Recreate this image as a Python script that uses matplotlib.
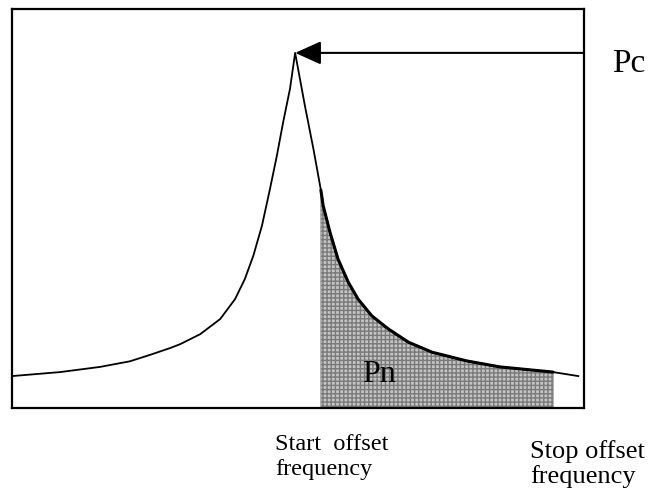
#!/usr/bin/env python3
"""
Adjacent-channel style sketch: carrier peak Pc and integrated noise Pn
between the start and stop offset frequencies.
"""

import numpy as np
import matplotlib
matplotlib.use("Agg")
import matplotlib.pyplot as plt

# ----------------------------- Data -----------------------------
# spectrum trace, arbitrary units (box spans 0..100 in x and y)
freq = [0.0, 8.4, 15.4, 20.6, 24.1, 27.6, 29.4, 32.9, 36.4, 39.0, 40.7,
        42.2, 43.7, 45.1, 46.3, 47.4, 48.6, 49.5,
        51.2, 52.7, 54.0, 54.4, 55.6, 57.0, 58.8, 60.5, 62.9, 65.8, 69.3,
        73.4, 79.5, 85.3, 94.6, 99.0]
power = [8.0, 9.0, 10.3, 11.7, 13.3, 15.0, 16.0, 18.5, 22.3, 27.3, 32.3,
         38.2, 45.7, 54.9, 63.2, 71.6, 80.0, 89.0,
         75.8, 64.9, 54.6, 50.7, 44.0, 37.3, 31.5, 27.3, 23.1, 19.8, 16.5,
         14.0, 11.8, 10.3, 9.0, 8.0]

start_offset = 54.0
stop_offset = 94.6

carrier_label = "Pc"
noise_label = "Pn"
start_label = ["Start  offset", "frequency"]
stop_label = ["Stop offset", "frequency"]

SERIF = ["Liberation Serif", "DejaVu Serif"]

# ----------------------------- Plot -----------------------------
fig = plt.figure(figsize=(6.49, 4.89), dpi=100)
ax = fig.add_axes([12 / 649, 1 - 409 / 489, 572 / 649, 399 / 489])
ax.set_xlim(0, 100)
ax.set_ylim(0, 100)
ax.set_xticks([])
ax.set_yticks([])
for sp in ax.spines.values():
    sp.set_linewidth(1.6)
    sp.set_color("black")

f = np.array(freq)
p = np.array(power)

# shaded noise band between start and stop offsets
band = (f >= start_offset) & (f <= stop_offset)
ax.fill_between(f[band], 0, p[band], facecolor="#c4c4c4",
                hatch="++++", edgecolor="#7a7a7a", linewidth=0.6, zorder=1)

ax.plot(f, p, color="black", lw=1.3, zorder=3, solid_joinstyle="round")
ax.plot(f[band], p[band], color="black", lw=2.2, zorder=3,
        solid_joinstyle="round", solid_capstyle="round")

# arrow from the right edge to the carrier peak
ipk = int(np.argmax(p))
ax.annotate("", xy=(f[ipk], p[ipk]), xytext=(100, p[ipk]),
            arrowprops=dict(arrowstyle="-|>,head_length=0.8,head_width=0.36",
                            mutation_scale=20, color="black", lw=1.5,
                            shrinkA=0, shrinkB=0),
            annotation_clip=False, zorder=4)

ax.text(104.9, 84.5, carrier_label, family=SERIF, fontsize=24,
        ha="left", va="baseline", clip_on=False)
ax.text(61.2, 6.8, noise_label, family=SERIF, fontsize=23,
        ha="left", va="baseline", zorder=5)

ax.text(46.0, -10.3, start_label[0], family=SERIF, fontsize=17.5,
        ha="left", va="baseline", clip_on=False)
ax.text(46.0, -16.5, start_label[1], family=SERIF, fontsize=17.5,
        ha="left", va="baseline", clip_on=False)
ax.text(90.6, -12.3, stop_label[0], family=SERIF, fontsize=19,
        ha="left", va="baseline", clip_on=False)
ax.text(90.6, -18.5, stop_label[1], family=SERIF, fontsize=19,
        ha="left", va="baseline", clip_on=False)

fig.savefig("out.png", dpi=100)
